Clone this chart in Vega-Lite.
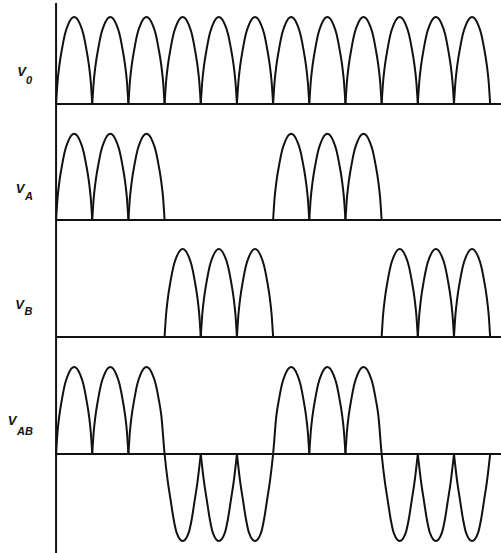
{
"$schema":"https://vega.github.io/schema/vega-lite/v6.json",
"padding":0,"spacing":0,"bounds":"flush",
"config":{"view":{"stroke":null},"line":{"stroke":"#111","strokeWidth":2,"interpolate":"monotone","clip":false},"rule":{"stroke":"#111","strokeWidth":2},"text":{"font":"Liberation Sans","fontStyle":"italic","fontWeight":"bold","fill":"#111"}},
"datasets":{
"lab":[
{"p":"0","v":"V","s":"0","lx":-0.956,"ly":0.368,"sx":-0.831,"sy":0.264},
{"p":"A","v":"V","s":"A","lx":-0.997,"ly":0.362,"sx":-0.859,"sy":0.264},
{"p":"B","v":"V","s":"B","lx":-1.010,"ly":0.362,"sx":-0.872,"sy":0.287},
{"p":"AB","v":"V","s":"AB","lx":-1.218,"ly":0.379,"sx":-1.080,"sy":0.253}
],
"w":[
{"p":"0","h":1,"x":0,"y":0},{"p":"0","h":1,"x":0.04,"y":0.25},{"p":"0","h":1,"x":0.09,"y":0.44},{"p":"0","h":1,"x":0.167,"y":0.64},{"p":"0","h":1,"x":0.25,"y":0.81},{"p":"0","h":1,"x":0.33,"y":0.91},{"p":"0","h":1,"x":0.5,"y":1},{"p":"0","h":1,"x":0.67,"y":0.91},{"p":"0","h":1,"x":0.75,"y":0.81},{"p":"0","h":1,"x":0.833,"y":0.64},{"p":"0","h":1,"x":0.91,"y":0.44},{"p":"0","h":1,"x":0.96,"y":0.25},{"p":"0","h":1,"x":1,"y":0},
{"p":"0","h":2,"x":1,"y":0},{"p":"0","h":2,"x":1.04,"y":0.25},{"p":"0","h":2,"x":1.09,"y":0.44},{"p":"0","h":2,"x":1.167,"y":0.64},{"p":"0","h":2,"x":1.25,"y":0.81},{"p":"0","h":2,"x":1.33,"y":0.91},{"p":"0","h":2,"x":1.5,"y":1},{"p":"0","h":2,"x":1.67,"y":0.91},{"p":"0","h":2,"x":1.75,"y":0.81},{"p":"0","h":2,"x":1.833,"y":0.64},{"p":"0","h":2,"x":1.91,"y":0.44},{"p":"0","h":2,"x":1.96,"y":0.25},{"p":"0","h":2,"x":2,"y":0},
{"p":"0","h":3,"x":2,"y":0},{"p":"0","h":3,"x":2.04,"y":0.25},{"p":"0","h":3,"x":2.09,"y":0.44},{"p":"0","h":3,"x":2.167,"y":0.64},{"p":"0","h":3,"x":2.25,"y":0.81},{"p":"0","h":3,"x":2.33,"y":0.91},{"p":"0","h":3,"x":2.5,"y":1},{"p":"0","h":3,"x":2.67,"y":0.91},{"p":"0","h":3,"x":2.75,"y":0.81},{"p":"0","h":3,"x":2.833,"y":0.64},{"p":"0","h":3,"x":2.91,"y":0.44},{"p":"0","h":3,"x":2.96,"y":0.25},{"p":"0","h":3,"x":3,"y":0},
{"p":"0","h":4,"x":3,"y":0},{"p":"0","h":4,"x":3.04,"y":0.25},{"p":"0","h":4,"x":3.09,"y":0.44},{"p":"0","h":4,"x":3.167,"y":0.64},{"p":"0","h":4,"x":3.25,"y":0.81},{"p":"0","h":4,"x":3.33,"y":0.91},{"p":"0","h":4,"x":3.5,"y":1},{"p":"0","h":4,"x":3.67,"y":0.91},{"p":"0","h":4,"x":3.75,"y":0.81},{"p":"0","h":4,"x":3.833,"y":0.64},{"p":"0","h":4,"x":3.91,"y":0.44},{"p":"0","h":4,"x":3.96,"y":0.25},{"p":"0","h":4,"x":4,"y":0},
{"p":"0","h":5,"x":4,"y":0},{"p":"0","h":5,"x":4.04,"y":0.25},{"p":"0","h":5,"x":4.09,"y":0.44},{"p":"0","h":5,"x":4.167,"y":0.64},{"p":"0","h":5,"x":4.25,"y":0.81},{"p":"0","h":5,"x":4.33,"y":0.91},{"p":"0","h":5,"x":4.5,"y":1},{"p":"0","h":5,"x":4.67,"y":0.91},{"p":"0","h":5,"x":4.75,"y":0.81},{"p":"0","h":5,"x":4.833,"y":0.64},{"p":"0","h":5,"x":4.91,"y":0.44},{"p":"0","h":5,"x":4.96,"y":0.25},{"p":"0","h":5,"x":5,"y":0},
{"p":"0","h":6,"x":5,"y":0},{"p":"0","h":6,"x":5.04,"y":0.25},{"p":"0","h":6,"x":5.09,"y":0.44},{"p":"0","h":6,"x":5.167,"y":0.64},{"p":"0","h":6,"x":5.25,"y":0.81},{"p":"0","h":6,"x":5.33,"y":0.91},{"p":"0","h":6,"x":5.5,"y":1},{"p":"0","h":6,"x":5.67,"y":0.91},{"p":"0","h":6,"x":5.75,"y":0.81},{"p":"0","h":6,"x":5.833,"y":0.64},{"p":"0","h":6,"x":5.91,"y":0.44},{"p":"0","h":6,"x":5.96,"y":0.25},{"p":"0","h":6,"x":6,"y":0},
{"p":"0","h":7,"x":6,"y":0},{"p":"0","h":7,"x":6.04,"y":0.25},{"p":"0","h":7,"x":6.09,"y":0.44},{"p":"0","h":7,"x":6.167,"y":0.64},{"p":"0","h":7,"x":6.25,"y":0.81},{"p":"0","h":7,"x":6.33,"y":0.91},{"p":"0","h":7,"x":6.5,"y":1},{"p":"0","h":7,"x":6.67,"y":0.91},{"p":"0","h":7,"x":6.75,"y":0.81},{"p":"0","h":7,"x":6.833,"y":0.64},{"p":"0","h":7,"x":6.91,"y":0.44},{"p":"0","h":7,"x":6.96,"y":0.25},{"p":"0","h":7,"x":7,"y":0},
{"p":"0","h":8,"x":7,"y":0},{"p":"0","h":8,"x":7.04,"y":0.25},{"p":"0","h":8,"x":7.09,"y":0.44},{"p":"0","h":8,"x":7.167,"y":0.64},{"p":"0","h":8,"x":7.25,"y":0.81},{"p":"0","h":8,"x":7.33,"y":0.91},{"p":"0","h":8,"x":7.5,"y":1},{"p":"0","h":8,"x":7.67,"y":0.91},{"p":"0","h":8,"x":7.75,"y":0.81},{"p":"0","h":8,"x":7.833,"y":0.64},{"p":"0","h":8,"x":7.91,"y":0.44},{"p":"0","h":8,"x":7.96,"y":0.25},{"p":"0","h":8,"x":8,"y":0},
{"p":"0","h":9,"x":8,"y":0},{"p":"0","h":9,"x":8.04,"y":0.25},{"p":"0","h":9,"x":8.09,"y":0.44},{"p":"0","h":9,"x":8.167,"y":0.64},{"p":"0","h":9,"x":8.25,"y":0.81},{"p":"0","h":9,"x":8.33,"y":0.91},{"p":"0","h":9,"x":8.5,"y":1},{"p":"0","h":9,"x":8.67,"y":0.91},{"p":"0","h":9,"x":8.75,"y":0.81},{"p":"0","h":9,"x":8.833,"y":0.64},{"p":"0","h":9,"x":8.91,"y":0.44},{"p":"0","h":9,"x":8.96,"y":0.25},{"p":"0","h":9,"x":9,"y":0},
{"p":"0","h":10,"x":9,"y":0},{"p":"0","h":10,"x":9.04,"y":0.25},{"p":"0","h":10,"x":9.09,"y":0.44},{"p":"0","h":10,"x":9.167,"y":0.64},{"p":"0","h":10,"x":9.25,"y":0.81},{"p":"0","h":10,"x":9.33,"y":0.91},{"p":"0","h":10,"x":9.5,"y":1},{"p":"0","h":10,"x":9.67,"y":0.91},{"p":"0","h":10,"x":9.75,"y":0.81},{"p":"0","h":10,"x":9.833,"y":0.64},{"p":"0","h":10,"x":9.91,"y":0.44},{"p":"0","h":10,"x":9.96,"y":0.25},{"p":"0","h":10,"x":10,"y":0},
{"p":"0","h":11,"x":10,"y":0},{"p":"0","h":11,"x":10.04,"y":0.25},{"p":"0","h":11,"x":10.09,"y":0.44},{"p":"0","h":11,"x":10.167,"y":0.64},{"p":"0","h":11,"x":10.25,"y":0.81},{"p":"0","h":11,"x":10.33,"y":0.91},{"p":"0","h":11,"x":10.5,"y":1},{"p":"0","h":11,"x":10.67,"y":0.91},{"p":"0","h":11,"x":10.75,"y":0.81},{"p":"0","h":11,"x":10.833,"y":0.64},{"p":"0","h":11,"x":10.91,"y":0.44},{"p":"0","h":11,"x":10.96,"y":0.25},{"p":"0","h":11,"x":11,"y":0},
{"p":"0","h":12,"x":11,"y":0},{"p":"0","h":12,"x":11.04,"y":0.25},{"p":"0","h":12,"x":11.09,"y":0.44},{"p":"0","h":12,"x":11.167,"y":0.64},{"p":"0","h":12,"x":11.25,"y":0.81},{"p":"0","h":12,"x":11.33,"y":0.91},{"p":"0","h":12,"x":11.5,"y":1},{"p":"0","h":12,"x":11.67,"y":0.91},{"p":"0","h":12,"x":11.75,"y":0.81},{"p":"0","h":12,"x":11.833,"y":0.64},{"p":"0","h":12,"x":11.91,"y":0.44},{"p":"0","h":12,"x":11.96,"y":0.25},{"p":"0","h":12,"x":12,"y":0},

{"p":"A","h":1,"x":0,"y":0},{"p":"A","h":1,"x":0.04,"y":0.25},{"p":"A","h":1,"x":0.09,"y":0.44},{"p":"A","h":1,"x":0.167,"y":0.64},{"p":"A","h":1,"x":0.25,"y":0.81},{"p":"A","h":1,"x":0.33,"y":0.91},{"p":"A","h":1,"x":0.5,"y":1},{"p":"A","h":1,"x":0.67,"y":0.91},{"p":"A","h":1,"x":0.75,"y":0.81},{"p":"A","h":1,"x":0.833,"y":0.64},{"p":"A","h":1,"x":0.91,"y":0.44},{"p":"A","h":1,"x":0.96,"y":0.25},{"p":"A","h":1,"x":1,"y":0},
{"p":"A","h":2,"x":1,"y":0},{"p":"A","h":2,"x":1.04,"y":0.25},{"p":"A","h":2,"x":1.09,"y":0.44},{"p":"A","h":2,"x":1.167,"y":0.64},{"p":"A","h":2,"x":1.25,"y":0.81},{"p":"A","h":2,"x":1.33,"y":0.91},{"p":"A","h":2,"x":1.5,"y":1},{"p":"A","h":2,"x":1.67,"y":0.91},{"p":"A","h":2,"x":1.75,"y":0.81},{"p":"A","h":2,"x":1.833,"y":0.64},{"p":"A","h":2,"x":1.91,"y":0.44},{"p":"A","h":2,"x":1.96,"y":0.25},{"p":"A","h":2,"x":2,"y":0},
{"p":"A","h":3,"x":2,"y":0},{"p":"A","h":3,"x":2.04,"y":0.25},{"p":"A","h":3,"x":2.09,"y":0.44},{"p":"A","h":3,"x":2.167,"y":0.64},{"p":"A","h":3,"x":2.25,"y":0.81},{"p":"A","h":3,"x":2.33,"y":0.91},{"p":"A","h":3,"x":2.5,"y":1},{"p":"A","h":3,"x":2.67,"y":0.91},{"p":"A","h":3,"x":2.75,"y":0.81},{"p":"A","h":3,"x":2.833,"y":0.64},{"p":"A","h":3,"x":2.91,"y":0.44},{"p":"A","h":3,"x":2.96,"y":0.25},{"p":"A","h":3,"x":3,"y":0},
{"p":"A","h":7,"x":6,"y":0},{"p":"A","h":7,"x":6.04,"y":0.25},{"p":"A","h":7,"x":6.09,"y":0.44},{"p":"A","h":7,"x":6.167,"y":0.64},{"p":"A","h":7,"x":6.25,"y":0.81},{"p":"A","h":7,"x":6.33,"y":0.91},{"p":"A","h":7,"x":6.5,"y":1},{"p":"A","h":7,"x":6.67,"y":0.91},{"p":"A","h":7,"x":6.75,"y":0.81},{"p":"A","h":7,"x":6.833,"y":0.64},{"p":"A","h":7,"x":6.91,"y":0.44},{"p":"A","h":7,"x":6.96,"y":0.25},{"p":"A","h":7,"x":7,"y":0},
{"p":"A","h":8,"x":7,"y":0},{"p":"A","h":8,"x":7.04,"y":0.25},{"p":"A","h":8,"x":7.09,"y":0.44},{"p":"A","h":8,"x":7.167,"y":0.64},{"p":"A","h":8,"x":7.25,"y":0.81},{"p":"A","h":8,"x":7.33,"y":0.91},{"p":"A","h":8,"x":7.5,"y":1},{"p":"A","h":8,"x":7.67,"y":0.91},{"p":"A","h":8,"x":7.75,"y":0.81},{"p":"A","h":8,"x":7.833,"y":0.64},{"p":"A","h":8,"x":7.91,"y":0.44},{"p":"A","h":8,"x":7.96,"y":0.25},{"p":"A","h":8,"x":8,"y":0},
{"p":"A","h":9,"x":8,"y":0},{"p":"A","h":9,"x":8.04,"y":0.25},{"p":"A","h":9,"x":8.09,"y":0.44},{"p":"A","h":9,"x":8.167,"y":0.64},{"p":"A","h":9,"x":8.25,"y":0.81},{"p":"A","h":9,"x":8.33,"y":0.91},{"p":"A","h":9,"x":8.5,"y":1},{"p":"A","h":9,"x":8.67,"y":0.91},{"p":"A","h":9,"x":8.75,"y":0.81},{"p":"A","h":9,"x":8.833,"y":0.64},{"p":"A","h":9,"x":8.91,"y":0.44},{"p":"A","h":9,"x":8.96,"y":0.25},{"p":"A","h":9,"x":9,"y":0},

{"p":"B","h":4,"x":3,"y":0},{"p":"B","h":4,"x":3.04,"y":0.25},{"p":"B","h":4,"x":3.09,"y":0.44},{"p":"B","h":4,"x":3.167,"y":0.64},{"p":"B","h":4,"x":3.25,"y":0.81},{"p":"B","h":4,"x":3.33,"y":0.91},{"p":"B","h":4,"x":3.5,"y":1},{"p":"B","h":4,"x":3.67,"y":0.91},{"p":"B","h":4,"x":3.75,"y":0.81},{"p":"B","h":4,"x":3.833,"y":0.64},{"p":"B","h":4,"x":3.91,"y":0.44},{"p":"B","h":4,"x":3.96,"y":0.25},{"p":"B","h":4,"x":4,"y":0},
{"p":"B","h":5,"x":4,"y":0},{"p":"B","h":5,"x":4.04,"y":0.25},{"p":"B","h":5,"x":4.09,"y":0.44},{"p":"B","h":5,"x":4.167,"y":0.64},{"p":"B","h":5,"x":4.25,"y":0.81},{"p":"B","h":5,"x":4.33,"y":0.91},{"p":"B","h":5,"x":4.5,"y":1},{"p":"B","h":5,"x":4.67,"y":0.91},{"p":"B","h":5,"x":4.75,"y":0.81},{"p":"B","h":5,"x":4.833,"y":0.64},{"p":"B","h":5,"x":4.91,"y":0.44},{"p":"B","h":5,"x":4.96,"y":0.25},{"p":"B","h":5,"x":5,"y":0},
{"p":"B","h":6,"x":5,"y":0},{"p":"B","h":6,"x":5.04,"y":0.25},{"p":"B","h":6,"x":5.09,"y":0.44},{"p":"B","h":6,"x":5.167,"y":0.64},{"p":"B","h":6,"x":5.25,"y":0.81},{"p":"B","h":6,"x":5.33,"y":0.91},{"p":"B","h":6,"x":5.5,"y":1},{"p":"B","h":6,"x":5.67,"y":0.91},{"p":"B","h":6,"x":5.75,"y":0.81},{"p":"B","h":6,"x":5.833,"y":0.64},{"p":"B","h":6,"x":5.91,"y":0.44},{"p":"B","h":6,"x":5.96,"y":0.25},{"p":"B","h":6,"x":6,"y":0},
{"p":"B","h":10,"x":9,"y":0},{"p":"B","h":10,"x":9.04,"y":0.25},{"p":"B","h":10,"x":9.09,"y":0.44},{"p":"B","h":10,"x":9.167,"y":0.64},{"p":"B","h":10,"x":9.25,"y":0.81},{"p":"B","h":10,"x":9.33,"y":0.91},{"p":"B","h":10,"x":9.5,"y":1},{"p":"B","h":10,"x":9.67,"y":0.91},{"p":"B","h":10,"x":9.75,"y":0.81},{"p":"B","h":10,"x":9.833,"y":0.64},{"p":"B","h":10,"x":9.91,"y":0.44},{"p":"B","h":10,"x":9.96,"y":0.25},{"p":"B","h":10,"x":10,"y":0},
{"p":"B","h":11,"x":10,"y":0},{"p":"B","h":11,"x":10.04,"y":0.25},{"p":"B","h":11,"x":10.09,"y":0.44},{"p":"B","h":11,"x":10.167,"y":0.64},{"p":"B","h":11,"x":10.25,"y":0.81},{"p":"B","h":11,"x":10.33,"y":0.91},{"p":"B","h":11,"x":10.5,"y":1},{"p":"B","h":11,"x":10.67,"y":0.91},{"p":"B","h":11,"x":10.75,"y":0.81},{"p":"B","h":11,"x":10.833,"y":0.64},{"p":"B","h":11,"x":10.91,"y":0.44},{"p":"B","h":11,"x":10.96,"y":0.25},{"p":"B","h":11,"x":11,"y":0},
{"p":"B","h":12,"x":11,"y":0},{"p":"B","h":12,"x":11.04,"y":0.25},{"p":"B","h":12,"x":11.09,"y":0.44},{"p":"B","h":12,"x":11.167,"y":0.64},{"p":"B","h":12,"x":11.25,"y":0.81},{"p":"B","h":12,"x":11.33,"y":0.91},{"p":"B","h":12,"x":11.5,"y":1},{"p":"B","h":12,"x":11.67,"y":0.91},{"p":"B","h":12,"x":11.75,"y":0.81},{"p":"B","h":12,"x":11.833,"y":0.64},{"p":"B","h":12,"x":11.91,"y":0.44},{"p":"B","h":12,"x":11.96,"y":0.25},{"p":"B","h":12,"x":12,"y":0},

{"p":"AB","h":1,"x":0,"y":0},{"p":"AB","h":1,"x":0.04,"y":0.25},{"p":"AB","h":1,"x":0.09,"y":0.44},{"p":"AB","h":1,"x":0.167,"y":0.64},{"p":"AB","h":1,"x":0.25,"y":0.81},{"p":"AB","h":1,"x":0.33,"y":0.91},{"p":"AB","h":1,"x":0.5,"y":1},{"p":"AB","h":1,"x":0.67,"y":0.91},{"p":"AB","h":1,"x":0.75,"y":0.81},{"p":"AB","h":1,"x":0.833,"y":0.64},{"p":"AB","h":1,"x":0.91,"y":0.44},{"p":"AB","h":1,"x":0.96,"y":0.25},{"p":"AB","h":1,"x":1,"y":0},
{"p":"AB","h":2,"x":1,"y":0},{"p":"AB","h":2,"x":1.04,"y":0.25},{"p":"AB","h":2,"x":1.09,"y":0.44},{"p":"AB","h":2,"x":1.167,"y":0.64},{"p":"AB","h":2,"x":1.25,"y":0.81},{"p":"AB","h":2,"x":1.33,"y":0.91},{"p":"AB","h":2,"x":1.5,"y":1},{"p":"AB","h":2,"x":1.67,"y":0.91},{"p":"AB","h":2,"x":1.75,"y":0.81},{"p":"AB","h":2,"x":1.833,"y":0.64},{"p":"AB","h":2,"x":1.91,"y":0.44},{"p":"AB","h":2,"x":1.96,"y":0.25},{"p":"AB","h":2,"x":2,"y":0},
{"p":"AB","h":3,"x":2,"y":0},{"p":"AB","h":3,"x":2.04,"y":0.25},{"p":"AB","h":3,"x":2.09,"y":0.44},{"p":"AB","h":3,"x":2.167,"y":0.64},{"p":"AB","h":3,"x":2.25,"y":0.81},{"p":"AB","h":3,"x":2.33,"y":0.91},{"p":"AB","h":3,"x":2.5,"y":1},{"p":"AB","h":3,"x":2.67,"y":0.91},{"p":"AB","h":3,"x":2.75,"y":0.81},{"p":"AB","h":3,"x":2.833,"y":0.64},{"p":"AB","h":3,"x":2.91,"y":0.44},{"p":"AB","h":3,"x":3,"y":0},{"p":"AB","h":3,"x":3.09,"y":-0.32},{"p":"AB","h":3,"x":3.167,"y":-0.53},{"p":"AB","h":3,"x":3.25,"y":-0.75},{"p":"AB","h":3,"x":3.33,"y":-0.9},{"p":"AB","h":3,"x":3.5,"y":-1},{"p":"AB","h":3,"x":3.67,"y":-0.9},{"p":"AB","h":3,"x":3.75,"y":-0.75},{"p":"AB","h":3,"x":3.833,"y":-0.53},{"p":"AB","h":3,"x":3.91,"y":-0.32},{"p":"AB","h":3,"x":4,"y":0},
{"p":"AB","h":5,"x":4,"y":0},{"p":"AB","h":5,"x":4.09,"y":-0.32},{"p":"AB","h":5,"x":4.167,"y":-0.53},{"p":"AB","h":5,"x":4.25,"y":-0.75},{"p":"AB","h":5,"x":4.33,"y":-0.9},{"p":"AB","h":5,"x":4.5,"y":-1},{"p":"AB","h":5,"x":4.67,"y":-0.9},{"p":"AB","h":5,"x":4.75,"y":-0.75},{"p":"AB","h":5,"x":4.833,"y":-0.53},{"p":"AB","h":5,"x":4.91,"y":-0.32},{"p":"AB","h":5,"x":5,"y":0},
{"p":"AB","h":6,"x":5,"y":0},{"p":"AB","h":6,"x":5.09,"y":-0.32},{"p":"AB","h":6,"x":5.167,"y":-0.53},{"p":"AB","h":6,"x":5.25,"y":-0.75},{"p":"AB","h":6,"x":5.33,"y":-0.9},{"p":"AB","h":6,"x":5.5,"y":-1},{"p":"AB","h":6,"x":5.67,"y":-0.9},{"p":"AB","h":6,"x":5.75,"y":-0.75},{"p":"AB","h":6,"x":5.833,"y":-0.53},{"p":"AB","h":6,"x":5.91,"y":-0.32},{"p":"AB","h":6,"x":6,"y":0},{"p":"AB","h":6,"x":6.09,"y":0.44},{"p":"AB","h":6,"x":6.167,"y":0.64},{"p":"AB","h":6,"x":6.25,"y":0.81},{"p":"AB","h":6,"x":6.33,"y":0.91},{"p":"AB","h":6,"x":6.5,"y":1},{"p":"AB","h":6,"x":6.67,"y":0.91},{"p":"AB","h":6,"x":6.75,"y":0.81},{"p":"AB","h":6,"x":6.833,"y":0.64},{"p":"AB","h":6,"x":6.91,"y":0.44},{"p":"AB","h":6,"x":6.96,"y":0.25},{"p":"AB","h":6,"x":7,"y":0},
{"p":"AB","h":8,"x":7,"y":0},{"p":"AB","h":8,"x":7.04,"y":0.25},{"p":"AB","h":8,"x":7.09,"y":0.44},{"p":"AB","h":8,"x":7.167,"y":0.64},{"p":"AB","h":8,"x":7.25,"y":0.81},{"p":"AB","h":8,"x":7.33,"y":0.91},{"p":"AB","h":8,"x":7.5,"y":1},{"p":"AB","h":8,"x":7.67,"y":0.91},{"p":"AB","h":8,"x":7.75,"y":0.81},{"p":"AB","h":8,"x":7.833,"y":0.64},{"p":"AB","h":8,"x":7.91,"y":0.44},{"p":"AB","h":8,"x":7.96,"y":0.25},{"p":"AB","h":8,"x":8,"y":0},
{"p":"AB","h":9,"x":8,"y":0},{"p":"AB","h":9,"x":8.04,"y":0.25},{"p":"AB","h":9,"x":8.09,"y":0.44},{"p":"AB","h":9,"x":8.167,"y":0.64},{"p":"AB","h":9,"x":8.25,"y":0.81},{"p":"AB","h":9,"x":8.33,"y":0.91},{"p":"AB","h":9,"x":8.5,"y":1},{"p":"AB","h":9,"x":8.67,"y":0.91},{"p":"AB","h":9,"x":8.75,"y":0.81},{"p":"AB","h":9,"x":8.833,"y":0.64},{"p":"AB","h":9,"x":8.91,"y":0.44},{"p":"AB","h":9,"x":9,"y":0},{"p":"AB","h":9,"x":9.09,"y":-0.32},{"p":"AB","h":9,"x":9.167,"y":-0.53},{"p":"AB","h":9,"x":9.25,"y":-0.75},{"p":"AB","h":9,"x":9.33,"y":-0.9},{"p":"AB","h":9,"x":9.5,"y":-1},{"p":"AB","h":9,"x":9.67,"y":-0.9},{"p":"AB","h":9,"x":9.75,"y":-0.75},{"p":"AB","h":9,"x":9.833,"y":-0.53},{"p":"AB","h":9,"x":9.91,"y":-0.32},{"p":"AB","h":9,"x":10,"y":0},
{"p":"AB","h":11,"x":10,"y":0},{"p":"AB","h":11,"x":10.09,"y":-0.32},{"p":"AB","h":11,"x":10.167,"y":-0.53},{"p":"AB","h":11,"x":10.25,"y":-0.75},{"p":"AB","h":11,"x":10.33,"y":-0.9},{"p":"AB","h":11,"x":10.5,"y":-1},{"p":"AB","h":11,"x":10.67,"y":-0.9},{"p":"AB","h":11,"x":10.75,"y":-0.75},{"p":"AB","h":11,"x":10.833,"y":-0.53},{"p":"AB","h":11,"x":10.91,"y":-0.32},{"p":"AB","h":11,"x":11,"y":0},
{"p":"AB","h":12,"x":11,"y":0},{"p":"AB","h":12,"x":11.09,"y":-0.32},{"p":"AB","h":12,"x":11.167,"y":-0.53},{"p":"AB","h":12,"x":11.25,"y":-0.75},{"p":"AB","h":12,"x":11.33,"y":-0.9},{"p":"AB","h":12,"x":11.5,"y":-1},{"p":"AB","h":12,"x":11.67,"y":-0.9},{"p":"AB","h":12,"x":11.75,"y":-0.75},{"p":"AB","h":12,"x":11.833,"y":-0.53},{"p":"AB","h":12,"x":11.91,"y":-0.32},{"p":"AB","h":12,"x":12,"y":0}
]},
"vconcat":[
{"width":501,"height":104,
 "layer":[
  {"data":{"name":"w"},"transform":[{"filter":"datum.p == '0'"}],"mark":"line",
   "encoding":{"x":{"field":"x","type":"quantitative","scale":{"domain":[-1.55,12.3],"nice":false},"axis":null},"y":{"field":"y","type":"quantitative","scale":{"domain":[0,1.195],"nice":false},"axis":null},"detail":{"field":"h"}}},
  {"data":{"name":"lab"},"transform":[{"filter":"datum.p == '0'"}],"layer":[
   {"mark":"rule","encoding":{"x":{"datum":0,"type":"quantitative","scale":{"domain":[-1.55,12.3],"nice":false}},"x2":{"datum":12.3},"y":{"datum":0,"type":"quantitative","scale":{"domain":[0,1.195],"nice":false}}}},
   {"mark":"rule","encoding":{"x":{"datum":0,"type":"quantitative"},"y":{"datum":0,"type":"quantitative"},"y2":{"datum":1.161}}},
   {"mark":{"type":"text","fontSize":13,"align":"center","baseline":"middle"},"encoding":{"x":{"field":"lx","type":"quantitative"},"y":{"field":"ly","type":"quantitative"},"text":{"field":"v"}}},
   {"mark":{"type":"text","fontSize":11,"align":"left","baseline":"middle"},"encoding":{"x":{"field":"sx","type":"quantitative"},"y":{"field":"sy","type":"quantitative"},"text":{"field":"s"}}}
  ]}
 ]},
{"width":501,"height":116,
 "layer":[
  {"data":{"name":"w"},"transform":[{"filter":"datum.p == 'A'"}],"mark":"line",
   "encoding":{"x":{"field":"x","type":"quantitative","scale":{"domain":[-1.55,12.3],"nice":false},"axis":null},"y":{"field":"y","type":"quantitative","scale":{"domain":[0,1.345],"nice":false},"axis":null},"detail":{"field":"h"}}},
  {"data":{"name":"lab"},"transform":[{"filter":"datum.p == 'A'"}],"layer":[
   {"mark":"rule","encoding":{"x":{"datum":0,"type":"quantitative","scale":{"domain":[-1.55,12.3],"nice":false}},"x2":{"datum":12.3},"y":{"datum":0,"type":"quantitative","scale":{"domain":[0,1.345],"nice":false}}}},
   {"mark":"rule","encoding":{"x":{"datum":0,"type":"quantitative"},"y":{"datum":0,"type":"quantitative"},"y2":{"datum":1.345}}},
   {"mark":{"type":"text","fontSize":13,"align":"center","baseline":"middle"},"encoding":{"x":{"field":"lx","type":"quantitative"},"y":{"field":"ly","type":"quantitative"},"text":{"field":"v"}}},
   {"mark":{"type":"text","fontSize":11,"align":"left","baseline":"middle"},"encoding":{"x":{"field":"sx","type":"quantitative"},"y":{"field":"sy","type":"quantitative"},"text":{"field":"s"}}}
  ]}
 ]},
{"width":501,"height":117,
 "layer":[
  {"data":{"name":"w"},"transform":[{"filter":"datum.p == 'B'"}],"mark":"line",
   "encoding":{"x":{"field":"x","type":"quantitative","scale":{"domain":[-1.55,12.3],"nice":false},"axis":null},"y":{"field":"y","type":"quantitative","scale":{"domain":[0,1.33],"nice":false},"axis":null},"detail":{"field":"h"}}},
  {"data":{"name":"lab"},"transform":[{"filter":"datum.p == 'B'"}],"layer":[
   {"mark":"rule","encoding":{"x":{"datum":0,"type":"quantitative","scale":{"domain":[-1.55,12.3],"nice":false}},"x2":{"datum":12.3},"y":{"datum":0,"type":"quantitative","scale":{"domain":[0,1.33],"nice":false}}}},
   {"mark":"rule","encoding":{"x":{"datum":0,"type":"quantitative"},"y":{"datum":0,"type":"quantitative"},"y2":{"datum":1.33}}},
   {"mark":{"type":"text","fontSize":13,"align":"center","baseline":"middle"},"encoding":{"x":{"field":"lx","type":"quantitative"},"y":{"field":"ly","type":"quantitative"},"text":{"field":"v"}}},
   {"mark":{"type":"text","fontSize":11,"align":"left","baseline":"middle"},"encoding":{"x":{"field":"sx","type":"quantitative"},"y":{"field":"sy","type":"quantitative"},"text":{"field":"s"}}}
  ]}
 ]},
{"width":501,"height":216,
 "layer":[
  {"data":{"name":"w"},"transform":[{"filter":"datum.p == 'AB'"}],"mark":"line",
   "encoding":{"x":{"field":"x","type":"quantitative","scale":{"domain":[-1.55,12.3],"nice":false},"axis":null},"y":{"field":"y","type":"quantitative","scale":{"domain":[-1.138,1.345],"nice":false},"axis":null},"detail":{"field":"h"}}},
  {"data":{"name":"lab"},"transform":[{"filter":"datum.p == 'AB'"}],"layer":[
   {"mark":"rule","encoding":{"x":{"datum":0,"type":"quantitative","scale":{"domain":[-1.55,12.3],"nice":false}},"x2":{"datum":12.3},"y":{"datum":0,"type":"quantitative","scale":{"domain":[-1.138,1.345],"nice":false}}}},
   {"mark":"rule","encoding":{"x":{"datum":0,"type":"quantitative"},"y":{"datum":-1.138,"type":"quantitative"},"y2":{"datum":1.345}}},
   {"mark":{"type":"text","fontSize":13,"align":"center","baseline":"middle"},"encoding":{"x":{"field":"lx","type":"quantitative"},"y":{"field":"ly","type":"quantitative"},"text":{"field":"v"}}},
   {"mark":{"type":"text","fontSize":11,"align":"left","baseline":"middle"},"encoding":{"x":{"field":"sx","type":"quantitative"},"y":{"field":"sy","type":"quantitative"},"text":{"field":"s"}}}
  ]}
 ]}
]
}
